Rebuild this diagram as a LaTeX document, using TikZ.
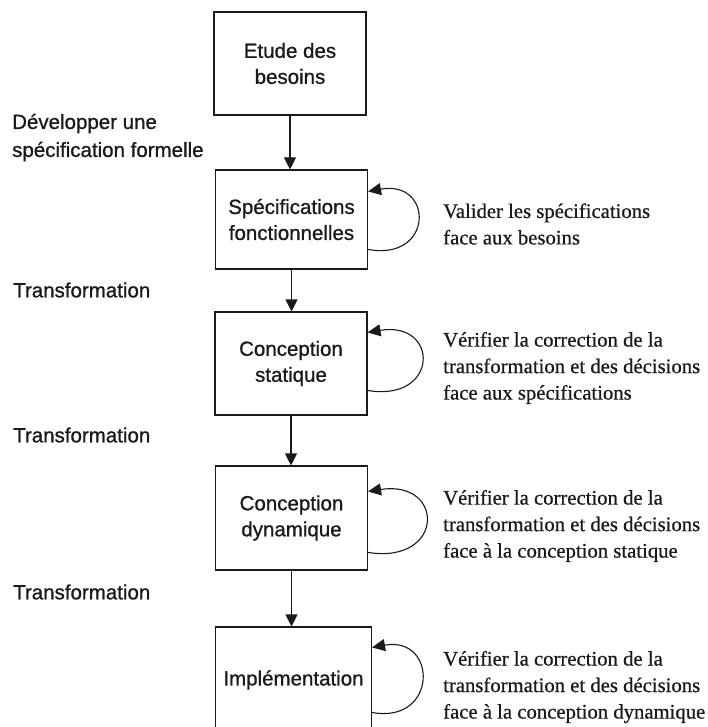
\documentclass[tikz,border=0pt]{standalone}
\usepackage{fontspec}
\setmainfont{Liberation Serif}[FakeBold=0.6]
\newfontfamily\arialfont{Liberation Sans}[FakeBold=0.9]
\usetikzlibrary{arrows.meta,calc}
\definecolor{ink}{HTML}{1A1A1A}
\begin{document}
\begin{tikzpicture}[x=1pt,y=-1pt,
  stagebox/.style={draw=ink,line width=1.1pt,minimum width=152pt,align=center,
    inner sep=0pt,text=ink,font=\arialfont\fontsize{20.5}{26}\selectfont},
  sidelabel/.style={anchor=west,inner sep=0pt,align=left,text=ink,
    font=\arialfont\fontsize{20.5}{28}\selectfont},
  checktext/.style={anchor=west,inner sep=0pt,align=left,text=ink,
    font=\fontsize{20.7}{26.5}\selectfont},
  flow/.style={draw=ink,line width=1.1pt,-{Triangle[width=12pt,length=12pt]}},
  selfcheck/.style={draw=ink,line width=1.1pt,-{Triangle[width=12pt,length=13pt]}}]
  \clip (0,0) rectangle (708,727);
  \useasboundingbox (0,0) rectangle (708,727);
  \fill[white] (0,0) rectangle (708,727);

  % stages of the development process
  \node[stagebox,minimum height=103pt] (b1) at (290,63.5) {Etude des\\besoins};
  \node[stagebox,minimum height=99pt]  (b2) at (291.5,219.5) {Spécifications\\fonctionnelles};
  \node[stagebox,minimum height=103pt] (b3) at (291,363.5) {Conception\\statique};
  \node[stagebox,minimum height=104pt] (b4) at (291.5,518) {Conception\\dynamique};
  \node[stagebox,minimum width=156pt,minimum height=106pt] (b5) at (293.5,680) {Implémentation};

  % transitions between stages
  \draw[flow] (b1.south) -- (b1.south |- b2.north);
  \draw[flow] (b2.south) -- (b2.south |- b3.north);
  \draw[flow] (b3.south) -- (b3.south |- b4.north);
  \draw[flow] (b4.south) -- (b4.south |- b5.north);

  % verification loops on each stage
  \draw[selfcheck] ($(b2.north east)+(0,80)$) .. controls +(66,12) and +(66,-12) .. ($(b2.north east)+(0,22)$);
  \draw[selfcheck] ($(b3.north east)+(0,79)$) .. controls +(72,12) and +(72,-12) .. ($(b3.north east)+(0,21)$);
  \draw[selfcheck] ($(b4.north east)+(0,87)$) .. controls +(77,12) and +(77,-12) .. ($(b4.north east)+(0,26)$);
  \draw[selfcheck] ($(b5.north east)+(0,86)$) .. controls +(66,12) and +(66,-12) .. ($(b5.north east)+(0,21)$);

  % activity labels on the left
  \node[sidelabel] (l1) at (12,137.5) {Développer une\\spécification formelle};
  \node[sidelabel] (l2) at (13,290) {Transformation};
  \node[sidelabel] (l3) at (13,435) {Transformation};
  \node[sidelabel] (l4) at (13,592) {Transformation};

  % verification descriptions on the right
  \node[checktext] (c1) at (443,224) {Valider les spécifications\\face aux besoins};
  \node[checktext] (c2) at (443,368) {Vérifier la correction de la\\transformation et des décisions\\face aux spécifications};
  \node[checktext] (c3) at (443,526) {Vérifier la correction de la\\transformation et des décisions\\face à la conception statique};
  \node[checktext] (c4) at (443,687) {Vérifier la correction de la\\transformation et des décisions\\face à la conception dynamique};
\end{tikzpicture}
\end{document}
